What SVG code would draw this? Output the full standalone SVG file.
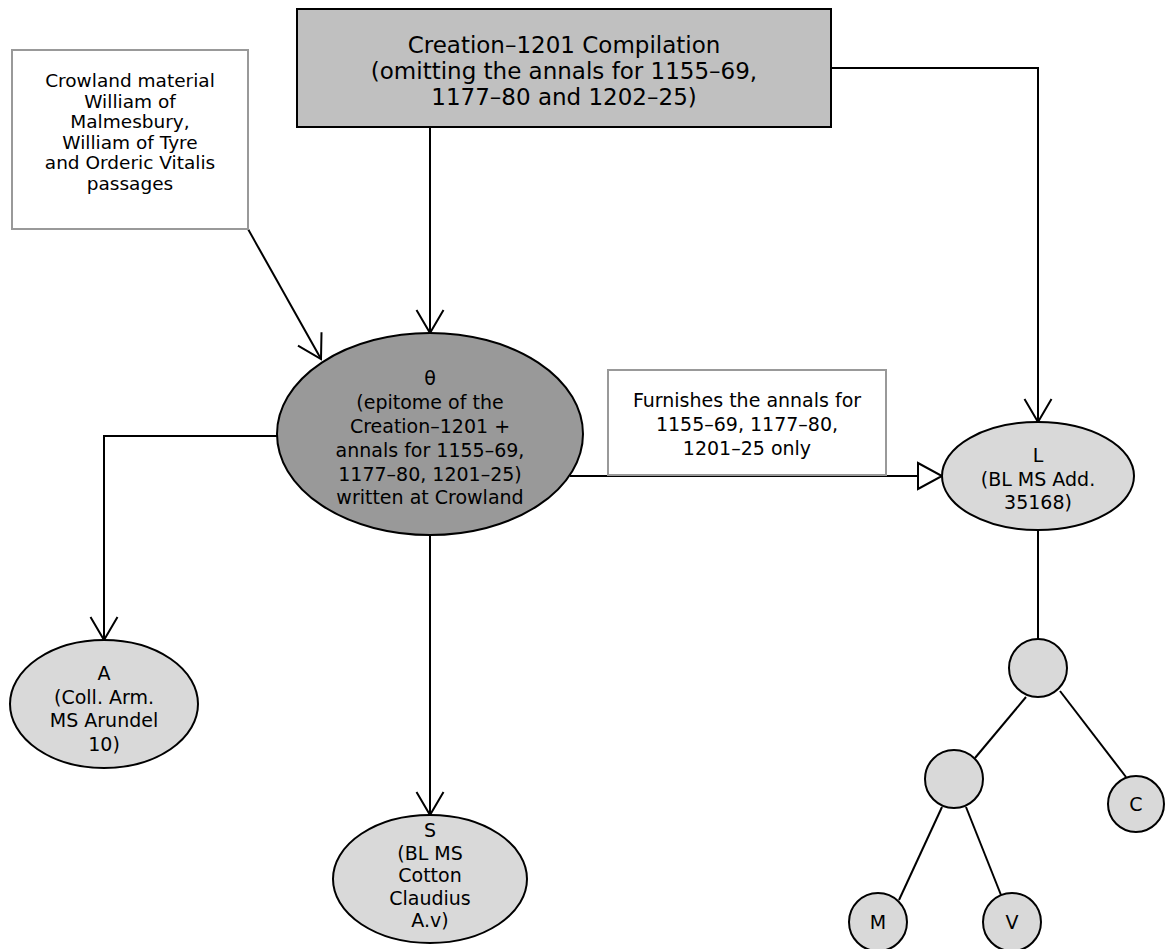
<svg xmlns="http://www.w3.org/2000/svg" width="1165" height="949" viewBox="0 0 1165 949">
<style>
text{font-family:"DejaVu Sans","Liberation Sans",sans-serif;fill:#000;text-anchor:middle}
.t19{font-size:19px}
.t18{font-size:18.5px}
.t23{font-size:23px}
.ln{fill:none;stroke:#000;stroke-width:2}
.lt{fill:#d9d9d9;stroke:#000;stroke-width:2}
.note{fill:#fff;stroke:#999;stroke-width:2}
</style>
<defs>
<marker id="v" markerWidth="30" markerHeight="30" refX="26" refY="15" orient="auto" markerUnits="userSpaceOnUse">
<path d="M3,1.5 L26,15 L3,28.5" fill="none" stroke="#000" stroke-width="2"/>
</marker>
</defs>
<g id="connectors">
<line class="ln" x1="430" y1="127" x2="430" y2="333" marker-end="url(#v)"/>
<line class="ln" x1="248" y1="229" x2="321" y2="359" marker-end="url(#v)"/>
<polyline class="ln" points="277,436 104,436 104,640" marker-end="url(#v)"/>
<line class="ln" x1="430" y1="535" x2="430" y2="815" marker-end="url(#v)"/>
<polyline class="ln" points="831,68 1038,68 1038,422" marker-end="url(#v)"/>
<line class="ln" x1="570" y1="476" x2="918" y2="476"/>
<polygon points="918,463 942,476 918,489" fill="#fff" stroke="#000" stroke-width="2"/>
<line class="ln" x1="1038" y1="530" x2="1038" y2="639"/>
<line class="ln" x1="1026" y1="697" x2="975" y2="758"/>
<line class="ln" x1="1060" y1="691" x2="1126" y2="777"/>
<line class="ln" x1="942" y1="807" x2="899" y2="900"/>
<line class="ln" x1="966" y1="807" x2="1001" y2="895"/>
</g>
<g id="compilation">
<rect x="297" y="9" width="534" height="118" fill="#c0c0c0" stroke="#000" stroke-width="2"/>
<text class="t23" x="564" y="53">Creation–1201 Compilation</text>
<text class="t23" x="564" y="79">(omitting the annals for 1155–69,</text>
<text class="t23" x="564" y="105">1177–80 and 1202–25)</text>
</g>
<g id="crowland">
<rect class="note" x="12" y="50" width="236" height="179"/>
<text class="t18" x="130" y="87">Crowland material</text>
<text class="t18" x="130" y="107.5">William of</text>
<text class="t18" x="130" y="128">Malmesbury,</text>
<text class="t18" x="130" y="148.5">William of Tyre</text>
<text class="t18" x="130" y="169">and Orderic Vitalis</text>
<text class="t18" x="130" y="189.5">passages</text>
</g>
<g id="theta">
<ellipse cx="430" cy="434" rx="153" ry="101" fill="#999" stroke="#000" stroke-width="2"/>
<text class="t19" x="430" y="385">θ</text>
<text class="t19" x="430" y="409">(epitome of the</text>
<text class="t19" x="430" y="433">Creation–1201 +</text>
<text class="t19" x="430" y="456.5">annals for 1155–69,</text>
<text class="t19" x="430" y="480.5">1177–80, 1201–25)</text>
<text class="t19" x="430" y="504">written at Crowland</text>
</g>
<g id="furnishes">
<rect class="note" x="608" y="370" width="278" height="105"/>
<text class="t19" x="747" y="407">Furnishes the annals for</text>
<text class="t19" x="747" y="431">1155–69, 1177–80,</text>
<text class="t19" x="747" y="455">1201–25 only</text>
</g>
<g id="L">
<ellipse class="lt" cx="1038" cy="476" rx="96" ry="54"/>
<text class="t19" x="1038" y="462">L</text>
<text class="t19" x="1038" y="485.5">(BL MS Add.</text>
<text class="t19" x="1038" y="509">35168)</text>
</g>
<g id="A">
<ellipse class="lt" cx="104" cy="704" rx="94" ry="64"/>
<text class="t19" x="104" y="680">A</text>
<text class="t19" x="104" y="703.5">(Coll. Arm.</text>
<text class="t19" x="104" y="727">MS Arundel</text>
<text class="t19" x="104" y="750.5">10)</text>
</g>
<g id="S">
<ellipse class="lt" cx="430" cy="879" rx="97" ry="64"/>
<text class="t19" x="430" y="837">S</text>
<text class="t19" x="430" y="859.5">(BL MS</text>
<text class="t19" x="430" y="882">Cotton</text>
<text class="t19" x="430" y="904.5">Claudius</text>
<text class="t19" x="430" y="927">A.v)</text>
</g>
<g id="n1"><circle class="lt" cx="1038" cy="668" r="29"/></g>
<g id="n2"><circle class="lt" cx="954" cy="779" r="29"/></g>
<g id="C"><circle class="lt" cx="1136" cy="804" r="28"/><text class="t19" x="1136" y="811">C</text></g>
<g id="M"><circle class="lt" cx="878" cy="922" r="29"/><text class="t19" x="878" y="929">M</text></g>
<g id="V"><circle class="lt" cx="1012" cy="922" r="29"/><text class="t19" x="1012" y="929">V</text></g>
</svg>
